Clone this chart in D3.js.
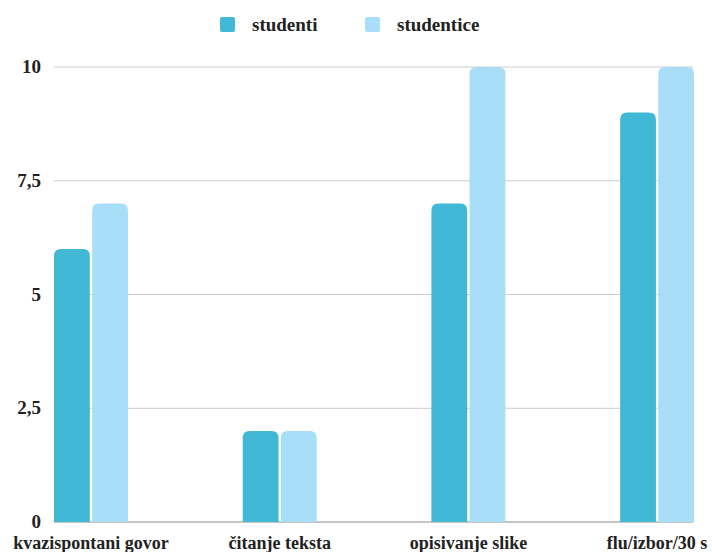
<!DOCTYPE html>
<html>
<head>
<meta charset="utf-8">
<style>
  body { margin: 0; background: #fff; }
</style>
</head>
<body>
<svg width="712" height="552"></svg>
<script src="https://d3js.org/d3.v7.min.js"></script>
<script>
var categories = ["kvazispontani govor", "čitanje teksta", "opisivanje slike", "flu/izbor/30 s"];
var seriesNames = ["studenti", "studentice"];
var studenti = [6, 2, 7, 9];
var studentice = [7, 2, 10, 10];
var yTicks = [0, 2.5, 5, 7.5, 10];
var yTickLabels = ["0", "2,5", "5", "7,5", "10"];
var colors = ["#41b8d5", "#a8def7"];
var fontFamily = "'Liberation Serif', 'DejaVu Serif', serif";

var svg = d3.select("svg"),
    plotLeft = 54, plotRight = 693, plotTop = 67, plotBottom = 522;

var step = 188.7;
var x0 = d3.scaleBand().domain(categories).range([plotLeft, plotLeft + step * categories.length]).padding(0);
var x1 = d3.scaleBand().domain(seriesNames).range([0, 74]).paddingInner(0.06);
var y = d3.scaleLinear().domain([0, 10]).range([plotBottom, plotTop]);

// grid
svg.append("g").selectAll("line").data(yTicks).enter().append("line")
  .attr("x1", plotLeft).attr("x2", plotRight)
  .attr("y1", function(d) { return y(d); }).attr("y2", function(d) { return y(d); })
  .attr("stroke", function(d) { return d === 0 ? "#8a8a8a" : "#cccccc"; })
  .attr("stroke-width", 1);

// y labels
svg.append("g").selectAll("text").data(yTicks).enter().append("text")
  .attr("x", 41).attr("y", function(d) { return y(d) + 6; })
  .attr("text-anchor", "end").attr("font-size", 19).attr("fill", "#222")
  .attr("font-family", fontFamily).attr("font-weight", "bold")
  .text(function(d, i) { return yTickLabels[i]; });

function topRounded(x, yTop, w, h, r) {
  r = Math.min(r, w / 2, h);
  return "M" + x + "," + (yTop + h) +
    "V" + (yTop + r) +
    "Q" + x + "," + yTop + " " + (x + r) + "," + yTop +
    "H" + (x + w - r) +
    "Q" + (x + w) + "," + yTop + " " + (x + w) + "," + (yTop + r) +
    "V" + (yTop + h) + "Z";
}

var allSeries = [studenti, studentice];
var groups = svg.append("g").selectAll("g").data(categories).enter().append("g")
  .attr("transform", function(d) { return "translate(" + x0(d) + ",0)"; });

groups.selectAll("path").data(function(d, i) {
    return seriesNames.map(function(s, j) { return { s: s, v: allSeries[j][i], j: j }; });
  }).enter().append("path")
  .attr("fill", function(d) { return colors[d.j]; })
  .attr("d", function(d) {
    return topRounded(x1(d.s), y(d.v), x1.bandwidth(), plotBottom - y(d.v), 7);
  });

// x labels
svg.append("g").selectAll("text").data(categories).enter().append("text")
  .attr("x", function(d) { return x0(d) + 37; })
  .attr("y", 549).attr("text-anchor", "middle").attr("font-size", 18).attr("fill", "#222")
  .attr("font-family", fontFamily).attr("font-weight", "bold")
  .text(function(d) { return d; });

// legend
var legendX = [220, 365];
var leg = svg.append("g").selectAll("g").data(seriesNames).enter().append("g")
  .attr("transform", function(d, i) { return "translate(" + legendX[i] + ",17)"; });
leg.append("rect").attr("width", 15).attr("height", 15).attr("rx", 2)
  .attr("fill", function(d, i) { return colors[i]; });
leg.append("text").attr("x", 32).attr("y", 14).attr("font-size", 19).attr("fill", "#222")
  .attr("font-family", fontFamily).attr("font-weight", "bold")
  .text(function(d) { return d; });
</script>
</body>
</html>
